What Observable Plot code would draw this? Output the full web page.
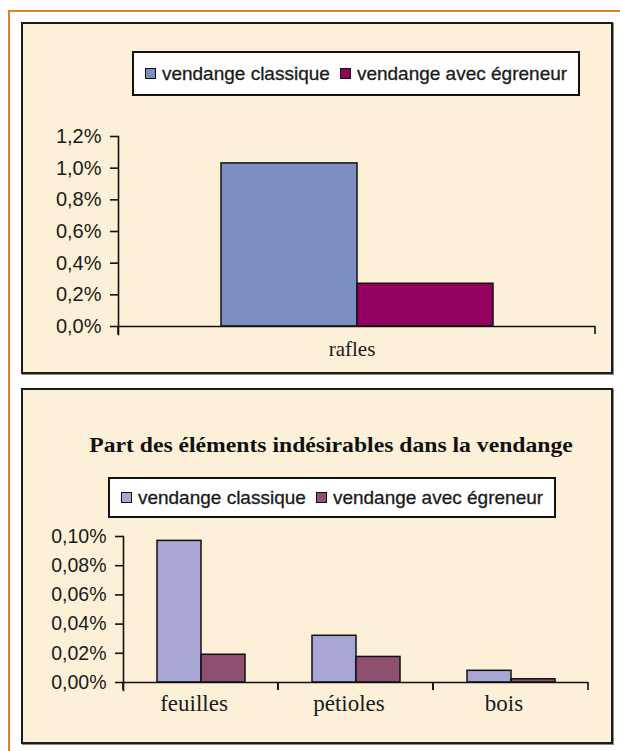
<!DOCTYPE html>
<html>
<head>
<meta charset="utf-8">
<script src="https://cdn.jsdelivr.net/npm/d3@7"></script>
<script src="https://cdn.jsdelivr.net/npm/@observablehq/plot@0.6"></script>
<style>
  html, body { margin: 0; padding: 0; background: #fff; }
  #root { position: relative; width: 620px; height: 751px; overflow: hidden; background: #fff; }
  .orange { position: absolute; left: 8px; top: 10px; width: 640px; height: 760px; border-left: 2px solid #d9822b; border-top: 2px solid #d9822b; box-sizing: border-box; }
  .panel { position: absolute; left: 21px; width: 592px; box-sizing: border-box; border: 2px solid #1c1c1c; background: #fcf1d8; box-shadow: 1px 1px 0 #888; }
  .legend { position: absolute; box-sizing: border-box; border: 2px solid #111; background: #fff; display: flex; align-items: center; justify-content: center;
            font-family: "Liberation Sans", Arial, sans-serif; font-size: 19px; color: #1a1a1a; white-space: nowrap; -webkit-text-stroke: 0.3px #1a1a1a; }
  .legend .item { display: flex; align-items: center; }
  .legend .sw { width: 9px; height: 9px; border: 1px solid #111; margin-right: 6px; -webkit-text-stroke: 0; }
  .legend .item + .item { margin-left: 10px; }
  .title { position: absolute; left: 35px; width: 592px; text-align: center; font-family: "Liberation Serif", "Times New Roman", serif; font-weight: bold; font-size: 21.5px; line-height: 21px; color: #111; transform: scaleX(1.1); transform-origin: 296px 0; white-space: nowrap; }
  .chart { position: absolute; left: 0; }
  .chart svg { overflow: visible; }
</style>
</head>
<body>
<div id="root">
  <div class="orange"></div>
  <div class="panel" style="top:22px;height:352px;"></div>
  <div class="panel" style="top:388px;height:356px;"></div>
  <div class="legend" id="legTop" style="left:132px;top:51px;width:448px;height:45px;"></div>
  <div class="title" id="title" style="top:435px;"></div>
  <div class="legend" id="legBot" style="left:108px;top:477px;width:448px;height:41px;"></div>
  <div class="chart" id="chartTop" style="top:100px;"></div>
  <div class="chart" id="chartBot" style="top:500px;"></div>
</div>
<script>
// ---- data ----
const seriesNames = ["vendange classique", "vendange avec égreneur"];

const topCategories = ["rafles"];
const topClassique = [1.03];
const topEgreneur = [0.27];
const topTicks = [0, 0.2, 0.4, 0.6, 0.8, 1.0, 1.2];

const bottomTitle = "Part des éléments indésirables dans la vendange";
const bottomCategories = ["feuilles", "pétioles", "bois"];
const bottomClassique = [0.097, 0.032, 0.008];
const bottomEgreneur = [0.019, 0.0175, 0.0022];
const bottomTicks = [0, 0.02, 0.04, 0.06, 0.08, 0.10];

const topColors = ["#7d8ec4", "#93005d"];
const bottomColors = ["#a8a6d4", "#8f4f71"];

const sansFont = "'Liberation Sans', Arial, sans-serif";
const serifFont = "'Liberation Serif', 'Times New Roman', serif";

function rowsOf(cats, a, b) {
  const rows = [];
  cats.forEach((c, i) => {
    rows.push({cat: c, series: seriesNames[0], value: a[i]});
    rows.push({cat: c, series: seriesNames[1], value: b[i]});
  });
  return rows;
}

function legend(el, colors) {
  seriesNames.forEach((s, i) => {
    const item = document.createElement("div");
    item.className = "item";
    const sw = document.createElement("span");
    sw.className = "sw";
    sw.style.background = colors[i];
    const t = document.createElement("span");
    t.textContent = s;
    item.appendChild(sw); item.appendChild(t);
    el.appendChild(item);
  });
}

// tick marks at the band boundaries along the baseline
function boundaryTicks(len) {
  return (index, scales) => {
    const [x0, x1] = scales.x.range();
    const y0 = scales.y(0);
    const g = d3.create("svg:g").attr("stroke", "#111").attr("stroke-width", 1.6);
    for (const x of [x0, x1]) g.append("line").attr("x1", x).attr("x2", x).attr("y1", y0).attr("y2", y0 + len);
    return g.node();
  };
}

function chart({cats, a, b, ticks, decimals, colors, width, height, marginLeft, marginRight, marginTop, marginBottom, catSize, catPad, catDx, tickSize}) {
  const rows = rowsOf(cats, a, b);
  const fmt = d => d.toFixed(decimals).replace(".", ",") + "%";
  return Plot.plot({
    width, height, marginLeft, marginRight, marginTop, marginBottom,
    style: {background: "transparent", overflow: "visible", color: "#1a1a1a"},
    fx: {domain: cats, padding: 0, label: null},
    x: {domain: seriesNames, paddingInner: 0, paddingOuter: 0.75, axis: null},
    y: {domain: [ticks[0], ticks[ticks.length - 1]]},
    color: {domain: seriesNames, range: colors},
    marks: [
      Plot.barY(rows, {fx: "cat", x: "series", y: "value", fill: "series", stroke: "#111", strokeWidth: 1.5}),
      Plot.ruleY([0], {stroke: "#111", strokeWidth: 1.6}),
      Plot.frame({anchor: "left", facetAnchor: "left", insetBottom: -8, stroke: "#111", strokeWidth: 1.6}),
      Plot.axisY({ticks, tickFormat: fmt, tickSize: 8, tickPadding: 9, label: null,
                  fontSize: tickSize, fontFamily: sansFont, stroke: "#111", strokeWidth: 1.6, fill: "#1a1a1a"}),
      Plot.axisFx({anchor: "bottom", tickSize: 0, tickPadding: catPad, label: null, dx: catDx,
                   fontSize: catSize, fontFamily: serifFont, fill: "#1a1a1a"}),
      boundaryTicks(8)
    ]
  });
}

legend(document.getElementById("legTop"), topColors);
legend(document.getElementById("legBot"), bottomColors);
document.getElementById("title").textContent = bottomTitle;

document.getElementById("chartTop").appendChild(chart({
  cats: topCategories, a: topClassique, b: topEgreneur, ticks: topTicks, decimals: 1, colors: topColors,
  width: 620, height: 266, marginLeft: 118, marginRight: 25, marginTop: 36, marginBottom: 40, catSize: 21, catPad: 15, catDx: -5, tickSize: 20
}));

document.getElementById("chartBot").appendChild(chart({
  cats: bottomCategories, a: bottomClassique, b: bottomEgreneur, ticks: bottomTicks, decimals: 2, colors: bottomColors,
  width: 620, height: 222, marginLeft: 123, marginRight: 32, marginTop: 36, marginBottom: 40, catSize: 23, catPad: 12, catDx: -7, tickSize: 19.5
}));
</script>
</body>
</html>
